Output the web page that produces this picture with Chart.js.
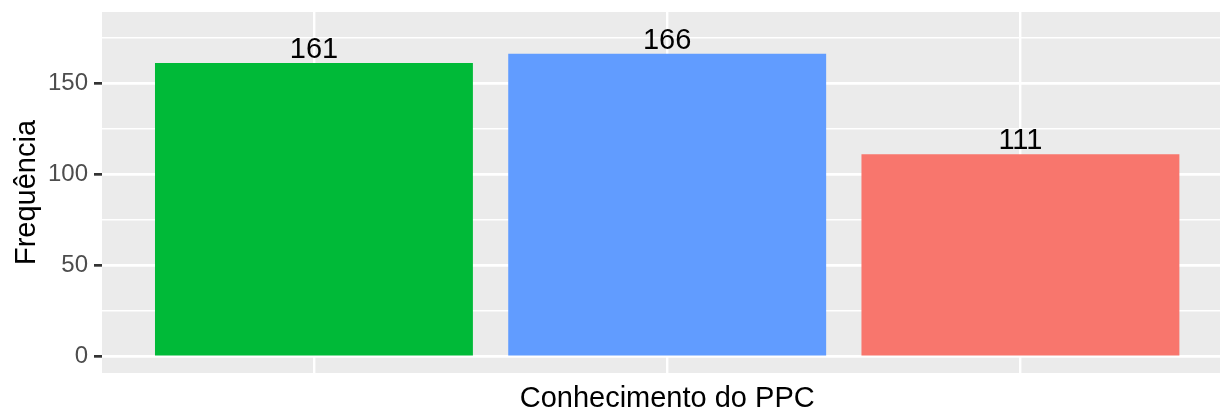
<!DOCTYPE html>
<html>
<head>
<meta charset="utf-8">
<script src="https://cdn.jsdelivr.net/npm/chart.js@4/dist/chart.umd.min.js"></script>
<style>
  html, body { margin: 0; padding: 0; background: #ffffff; }
  #wrap { width: 1220px; height: 411px; }
</style>
</head>
<body>
<div id="wrap"><canvas id="freqChart" width="1220" height="411"></canvas></div>
<script>
// x positions of the three bars (discrete scale, labels hidden in the original)
const categories = [1, 2, 3];
const counts = [161, 166, 111];
const barColors = ['#00BA38', '#619CFF', '#F8766D'];

// y axis ticks: labelled major ones and the unlabelled minor ones between them
const yMajorTicks = [0, 50, 100, 150];
const yMinorTicks = [25, 75, 125, 175];

const xTitle = 'Conhecimento do PPC';
const yTitle = 'Frequência';

const fontFamily = '"Liberation Sans", Arial, Helvetica, sans-serif';

// grey panel like ggplot
const panelBackground = {
    id: 'panelBackground',
    beforeDraw(chart) {
        const { ctx, chartArea } = chart;
        ctx.save();
        ctx.fillStyle = '#EBEBEB';
        ctx.fillRect(chartArea.left, chartArea.top, chartArea.right - chartArea.left, chartArea.bottom - chartArea.top);
        ctx.restore();
    }
};

// count labels above the bars + axis titles
const textLayer = {
    id: 'textLayer',
    afterDatasetsDraw(chart) {
        const { ctx, scales, chartArea } = chart;
        const x = scales.x, y = scales.y;
        ctx.save();
        ctx.fillStyle = '#000000';
        ctx.font = '29px ' + fontFamily;
        ctx.textAlign = 'center';
        ctx.textBaseline = 'alphabetic';
        counts.forEach((v, i) => {
            ctx.fillText(String(v), x.getPixelForValue(categories[i]), y.getPixelForValue(v) - 5);
        });

        // x title, centred on the (full) panel
        ctx.fillText(xTitle, x.getPixelForValue(2), 407);

        // y title, rotated
        ctx.translate(35, (chartArea.top + chartArea.bottom) / 2);
        ctx.rotate(-Math.PI / 2);
        ctx.fillText(yTitle, 0, 0);
        ctx.restore();
    }
};

const ctx = document.getElementById('freqChart').getContext('2d');
const chart = new Chart(ctx, {
    type: 'bar',
    data: {
        datasets: [{
            data: categories.map((c, i) => ({ x: c, y: counts[i] })),
            backgroundColor: barColors,
            borderWidth: 0,
            barPercentage: 0.9,
            categoryPercentage: 1.0
        }]
    },
    options: {
        responsive: false,
        animation: false,
        layout: { padding: { top: 12, left: 0, right: 0, bottom: 0 } },
        plugins: {
            legend: { display: false },
            tooltip: { enabled: false }
        },
        scales: {
            x: {
                type: 'linear',
                min: 0.4,
                max: 3.565,
                offset: false,
                afterBuildTicks: scale => { scale.ticks = categories.map(v => ({ value: v })); },
                afterFit: scale => {
                    scale.height = 38;
                    scale.paddingLeft = 0;
                    scale.paddingRight = 0;
                },
                ticks: { display: false },
                grid: { color: '#FFFFFF', lineWidth: 2.4, drawTicks: false, offset: false },
                border: { display: false }
            },
            y: {
                type: 'linear',
                min: -8.9,
                max: 188.9,
                afterBuildTicks: scale => {
                    scale.ticks = [...yMajorTicks, ...yMinorTicks].sort((a, b) => a - b).map(v => ({ value: v }));
                },
                afterFit: scale => {
                    scale.width = 102;
                    scale.paddingTop = 0;
                    scale.paddingBottom = 0;
                },
                ticks: {
                    color: '#4D4D4D',
                    font: { family: fontFamily, size: 24 },
                    padding: 6,
                    callback: v => (yMajorTicks.includes(v) ? String(v) : '')
                },
                grid: {
                    color: '#FFFFFF',
                    lineWidth: c => (yMajorTicks.includes(c.tick.value) ? 2.7 : 1.4),
                    tickColor: c => (yMajorTicks.includes(c.tick.value) ? '#333333' : 'rgba(0,0,0,0)'),
                    tickLength: 8,
                    tickWidth: 2.7
                },
                border: { display: false }
            }
        }
    },
    plugins: [panelBackground, textLayer]
});
</script>
</body>
</html>
